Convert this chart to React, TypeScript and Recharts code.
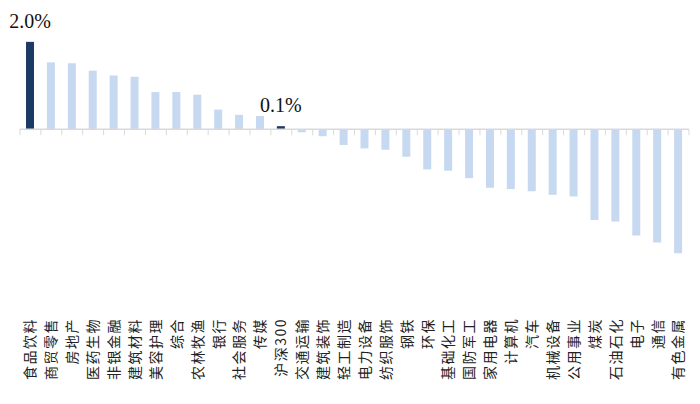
import React from 'react';
import { BarChart, Bar, XAxis, YAxis, Cell, LabelList, ReferenceLine } from 'recharts';

// 行业涨跌幅（%），按从高到低排列
const categories = [
  '食品饮料', '商贸零售', '房地产', '医药生物', '非银金融', '建筑材料', '美容护理', '综合',
  '农林牧渔', '银行', '社会服务', '传媒', '沪深300', '交通运输', '建筑装饰', '轻工制造',
  '电力设备', '纺织服饰', '钢铁', '环保', '基础化工', '国防军工', '家用电器', '计算机',
  '汽车', '机械设备', '公用事业', '煤炭', '石油石化', '电子', '通信', '有色金属',
];
const values = [
  2.0, 1.53, 1.51, 1.34, 1.23, 1.2, 0.85, 0.85,
  0.79, 0.45, 0.33, 0.3, 0.07, -0.07, -0.16, -0.36,
  -0.44, -0.47, -0.63, -0.92, -0.95, -1.12, -1.34, -1.37,
  -1.42, -1.5, -1.54, -2.08, -2.11, -2.43, -2.59, -2.84,
];
const highlighted = ['食品饮料', '沪深300'];

const data = categories.map((name, i) => ({
  name,
  value: values[i],
  label: highlighted.includes(name) ? values[i].toFixed(1) + '%' : '',
}));

const DARK = '#1c3a63';
const LIGHT = '#c6d9f1';

function CategoryTick({ x, y, payload }: any) {
  const ty = y + 6;
  return (
    <text
      x={x}
      y={ty}
      transform={`rotate(-90, ${x}, ${ty})`}
      textAnchor="end"
      dy="0.35em"
      fontSize={14}
      letterSpacing={1.5}
      fill="#222"
      fontFamily="'Noto Sans CJK SC', sans-serif"
    >
      {payload.value}
    </text>
  );
}

/* zero line with small tick marks between the categories */
function ZeroLine(props: any) {
  const { x1, y1, x2 } = props;
  const n = categories.length;
  const step = (x2 - x1) / n;
  return (
    <g>
      <line x1={x1} y1={y1} x2={x2} y2={y1} stroke="#d9d9d9" strokeWidth={1.5} />
      {Array.from({ length: n + 1 }, (_, i) => (
        <line key={i} x1={x1 + i * step} y1={y1} x2={x1 + i * step} y2={y1 + 6} stroke="#d9d9d9" strokeWidth={1} />
      ))}
    </g>
  );
}

function ValueLabel({ x, y, width, value }: any) {
  if (!value) return null;
  return (
    <text
      x={x + width / 2}
      y={y - 14}
      textAnchor="middle"
      fontSize={20}
      fill="#111"
      fontFamily="'Liberation Serif', serif"
    >
      {value}
    </text>
  );
}

export default function App() {
  return (
    <div style={{ position: 'absolute', left: 0, top: 0 }}>
      <BarChart
        width={700}
        height={404}
        data={data}
        margin={{ top: 20, right: 11, left: 20, bottom: 0 }}
      >
        <XAxis
          dataKey="name"
          interval={0}
          axisLine={false}
          tickLine={false}
          height={100}
          tick={<CategoryTick />}
        />
        <YAxis hide domain={[-4, 2.5]} />
        <ReferenceLine y={0} shape={<ZeroLine />} />
        <Bar dataKey="value" barSize={8} isAnimationActive={false}>
          {data.map((d) => (
            <Cell key={d.name} fill={highlighted.includes(d.name) ? DARK : LIGHT} />
          ))}
          <LabelList dataKey="label" content={<ValueLabel />} />
        </Bar>
      </BarChart>
    </div>
  );
}
